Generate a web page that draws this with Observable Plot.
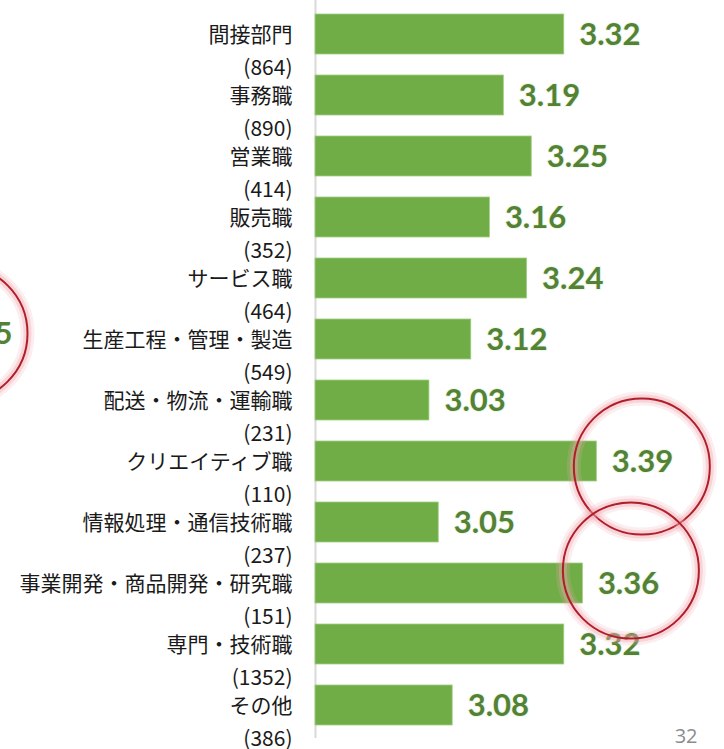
<!DOCTYPE html>
<html>
<head>
<meta charset="utf-8">
<script src="https://cdn.jsdelivr.net/npm/d3@7"></script>
<script src="https://cdn.jsdelivr.net/npm/@observablehq/plot@0.6"></script>
<style>
  html, body { margin: 0; padding: 0; background: #fff; }
  #chart svg { display: block; }
</style>
</head>
<body>
<div id="chart"></div>
<script>
const categories = ["間接部門","事務職","営業職","販売職","サービス職","生産工程・管理・製造","配送・物流・運輸職","クリエイティブ職","情報処理・通信技術職","事業開発・商品開発・研究職","専門・技術職","その他"];
const counts = [864, 890, 414, 352, 464, 549, 231, 110, 237, 151, 1352, 386];
const values = [3.32, 3.19, 3.25, 3.16, 3.24, 3.12, 3.03, 3.39, 3.05, 3.36, 3.32, 3.08];
const highlightA = ["クリエイティブ職"];
const highlightB = ["事業開発・商品開発・研究職"];
const partialLabel = ["5"];
const pageNumber = ["32"];

const data = categories.map((c, i) => ({cat: c, n: counts[i], v: values[i]}));
const xDomain = [2.785, 3.5];
const base = xDomain[0];
const hlA = data.filter(d => highlightA.includes(d.cat));
const hlB = data.filter(d => highlightB.includes(d.cat));

const jp = "'Noto Sans CJK JP', 'Noto Sans', sans-serif";
const green = "#70ad47";
const dark = "#548235";
const red = "#b01e2a";

function rings(arr, dx, dy) {
  return [
    Plot.dot(arr, {x: "v", y: "cat", r: 68, dx, dy, fill: "none", stroke: "#f2a7ae", strokeWidth: 14, strokeOpacity: 0.2}),
    Plot.dot(arr, {x: "v", y: "cat", r: 68, dx, dy, fill: "none", stroke: "#f2a7ae", strokeWidth: 8, strokeOpacity: 0.35}),
    Plot.dot(arr, {x: "v", y: "cat", r: 68, dx, dy, fill: "none", stroke: red, strokeWidth: 2})
  ];
}

const chart = Plot.plot({
  width: 724,
  height: 749,
  marginTop: 0,
  marginBottom: 11,
  marginLeft: 0,
  marginRight: 0,
  style: {background: "#fff", overflow: "visible"},
  x: {domain: xDomain, range: [315, 315 + (xDomain[1] - xDomain[0]) * 465], axis: null},
  y: {domain: categories, range: [1.3, 738.7], paddingInner: 0.34, paddingOuter: 0.17, axis: null},
  marks: [
    Plot.ruleX([base], {stroke: "#d9d9d9", strokeWidth: 2}),
    Plot.barX(data, {x1: () => base, x2: "v", y: "cat", fill: green, stroke: "#9fcd80", strokeWidth: 0.8}),
    Plot.text(data, {x: () => base, y: "cat", text: "cat", textAnchor: "end", dx: -23, dy: 1, fontSize: 21, fill: "#1a1a1a", fontFamily: jp}),
    Plot.text(data, {x: () => base, y: "cat", text: d => `(${d.n})`, textAnchor: "end", dx: -23, dy: 34, fontSize: 21, fill: "#1a1a1a", fontFamily: jp}),
    Plot.text(data, {x: "v", y: "cat", text: d => d.v.toFixed(2), textAnchor: "start", dx: 15, dy: 1, fontSize: 31, fontWeight: "bold", fontFamily: "Lato, 'Open Sans', sans-serif", fill: dark, stroke: "#eef7e8", strokeWidth: 2}),
    ...rings(hlA, 45, 5),
    ...rings(hlB, 48, -13),
    Plot.dot([0], {frameAnchor: "left", dx: -41, dy: -36, r: 68, fill: "none", stroke: "#f2a7ae", strokeWidth: 14, strokeOpacity: 0.2}),
    Plot.dot([0], {frameAnchor: "left", dx: -41, dy: -36, r: 68, fill: "none", stroke: "#f2a7ae", strokeWidth: 8, strokeOpacity: 0.35}),
    Plot.dot([0], {frameAnchor: "left", dx: -41, dy: -36, r: 68, fill: "none", stroke: red, strokeWidth: 2}),
    Plot.text(partialLabel, {frameAnchor: "left", text: d => d, textAnchor: "end", dx: 12, dy: -35, fontSize: 31, fontWeight: "bold", fontFamily: "Lato, 'Open Sans', sans-serif", fill: dark}),
    Plot.text(pageNumber, {frameAnchor: "bottom-right", text: d => d, textAnchor: "end", dx: -27, dy: 4, fontSize: 20, fill: "#8c8c8c", fontFamily: "'Open Sans', sans-serif"})
  ]
});
document.getElementById("chart").append(chart);
</script>
</body>
</html>
